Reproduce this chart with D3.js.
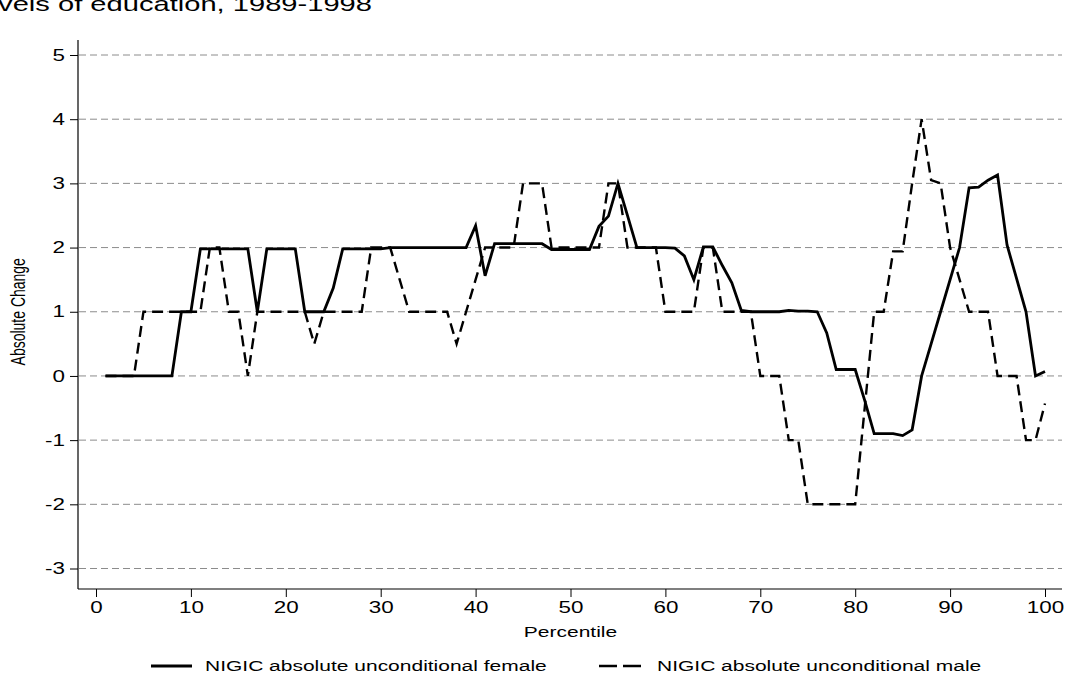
<!DOCTYPE html>
<html>
<head>
<meta charset="utf-8">
<script src="https://cdn.jsdelivr.net/npm/d3@7"></script>
<style>
  body { margin: 0; background: #fff; }
  text { font-family: "Liberation Sans", Arial, sans-serif; fill: #000; }
</style>
</head>
<body>
<svg id="chart" width="1066" height="684"></svg>
<script>
// Percentiles of the wage distribution
const percentiles = d3.range(1, 101);

// NIGIC absolute unconditional change, female
const female = [
  0, 0, 0, 0, 0, 0, 0, 0, 1, 1,
  1.98, 1.98, 1.98, 1.98, 1.98, 1.98, 1, 1.98, 1.98, 1.98,
  1.98, 1, 1, 1, 1.37, 1.98, 1.98, 1.98, 1.98, 1.98,
  2, 2, 2, 2, 2, 2, 2, 2, 2, 2.34,
  1.56, 2.06, 2.06, 2.06, 2.06, 2.06, 2.06, 1.97, 1.97, 1.97,
  1.97, 1.97, 2.33, 2.49, 3, 2.5, 2, 2, 2, 2,
  1.99, 1.87, 1.5, 2.01, 2.01, 1.72, 1.45, 1.02, 1, 1,
  1, 1, 1.02, 1.01, 1.01, 1, 0.67, 0.1, 0.1, 0.1,
  -0.38, -0.9, -0.9, -0.9, -0.93, -0.84, 0, 0.5, 1, 1.5,
  2, 2.93, 2.94, 3.05, 3.13, 2.04, 1.52, 1, 0, 0.07
];

// NIGIC absolute unconditional change, male
const male = [
  0, 0, 0, 0, 1, 1, 1, 1, 1, 1,
  1, 2, 2, 1, 1, 0, 1, 1, 1, 1,
  1, 1, 0.5, 1, 1, 1, 1, 1, 2, 2,
  2, 1.5, 1, 1, 1, 1, 1, 0.5, 1, 1.5,
  2, 2, 2, 2, 3, 3, 3, 2, 2, 2,
  2, 2, 2, 3, 3, 2, 2, 2, 2, 1,
  1, 1, 1, 2, 2, 1, 1, 1, 1, 0,
  0, 0, -1, -1, -2, -2, -2, -2, -2, -2,
  -0.5, 1, 1, 1.94, 1.94, 3, 4, 3.05, 3, 2,
  1.5, 1, 1, 1, 0, 0, 0, -1, -1, -0.43
];

const xTicks = [0, 10, 20, 30, 40, 50, 60, 70, 80, 90, 100];
const yTicks = [-3, -2, -1, 0, 1, 2, 3, 4, 5];

const seriesLabels = ["NIGIC absolute unconditional female", "NIGIC absolute unconditional male"];
const titleText = "levels of education, 1989-1998";

const svg = d3.select("#chart");

// The graph's lettering is drawn wide: every text is stretched horizontally
const SX = 1.4;

// Plot frame
const frameLeft = 78, frameRight = 1062, frameTop = 40, frameBottom = 589;

const x = d3.scaleLinear().domain([0, 100]).range([96, 1045]);
const y = d3.scaleLinear().domain([-3, 5]).range([568.5, 55]);

// Title (runs off the top-left edge)
svg.append("text")
  .attr("transform", `translate(372,11) scale(${SX},1)`)
  .attr("text-anchor", "end")
  .style("font-size", "20.8px")
  .text(titleText);

// Horizontal grid
svg.append("g")
  .selectAll("line")
  .data(yTicks)
  .join("line")
  .attr("x1", frameLeft + 1).attr("x2", frameRight)
  .attr("y1", d => y(d)).attr("y2", d => y(d))
  .attr("stroke", "#8c8c8c")
  .attr("stroke-width", 1)
  .attr("stroke-dasharray", "7,4");

const fmt = d => String(d);

// Y axis
const yAxis = svg.append("g").attr("transform", `translate(${frameLeft},0)`)
  .call(d3.axisLeft(y).tickValues(yTicks).tickSize(8).tickFormat(fmt));
yAxis.select(".domain").remove();
yAxis.append("line").attr("x1", 0).attr("x2", 0).attr("y1", frameTop).attr("y2", frameBottom)
  .attr("stroke", "#000").attr("stroke-width", 1.2);
yAxis.selectAll(".tick line").attr("stroke", "#000");
yAxis.selectAll(".tick text")
  .style("font-size", "16px").attr("fill", "#000")
  .attr("x", -13 / SX)
  .attr("transform", `scale(${SX},1)`);

// X axis
const xAxis = svg.append("g").attr("transform", `translate(0,${frameBottom})`)
  .call(d3.axisBottom(x).tickValues(xTicks).tickSize(8).tickPadding(5).tickFormat(fmt));
xAxis.select(".domain").remove();
xAxis.append("line").attr("x1", frameLeft).attr("x2", frameRight).attr("y1", 0).attr("y2", 0)
  .attr("stroke", "#000").attr("stroke-width", 1.2);
xAxis.selectAll(".tick line").attr("stroke", "#000");
xAxis.selectAll(".tick text")
  .style("font-size", "16px").attr("fill", "#000")
  .attr("transform", `scale(${SX},1)`);

// Axis titles
svg.append("text")
  .attr("transform", `translate(${x(50)},637) scale(${SX},1)`)
  .attr("text-anchor", "middle")
  .style("font-size", "15px")
  .text("Percentile");

svg.append("text")
  .attr("transform", `translate(25,${y(1)}) rotate(-90) scale(1,${SX})`)
  .attr("text-anchor", "middle")
  .style("font-size", "14px")
  .text("Absolute Change");

// Series lines
const line = d3.line()
  .x((d, i) => x(percentiles[i]))
  .y(d => y(d));

svg.append("path")
  .datum(male)
  .attr("d", line)
  .attr("fill", "none")
  .attr("stroke", "#000")
  .attr("stroke-width", 2.4)
  .attr("stroke-dasharray", "11,6");

svg.append("path")
  .datum(female)
  .attr("d", line)
  .attr("fill", "none")
  .attr("stroke", "#000")
  .attr("stroke-width", 2.8)
  .attr("stroke-linejoin", "miter");

// Legend
const legendY = 666;
const legend = svg.append("g");
legend.append("line")
  .attr("x1", 151).attr("x2", 192).attr("y1", legendY).attr("y2", legendY)
  .attr("stroke", "#000").attr("stroke-width", 2.8);
legend.append("text")
  .attr("transform", `translate(205,${legendY + 5}) scale(${SX},1)`)
  .style("font-size", "15px")
  .text(seriesLabels[0]);
legend.append("line")
  .attr("x1", 599).attr("x2", 641).attr("y1", legendY).attr("y2", legendY)
  .attr("stroke", "#000").attr("stroke-width", 2.4).attr("stroke-dasharray", "18,6");
legend.append("text")
  .attr("transform", `translate(657,${legendY + 5}) scale(${SX},1)`)
  .style("font-size", "15px")
  .text(seriesLabels[1]);
</script>
</body>
</html>
